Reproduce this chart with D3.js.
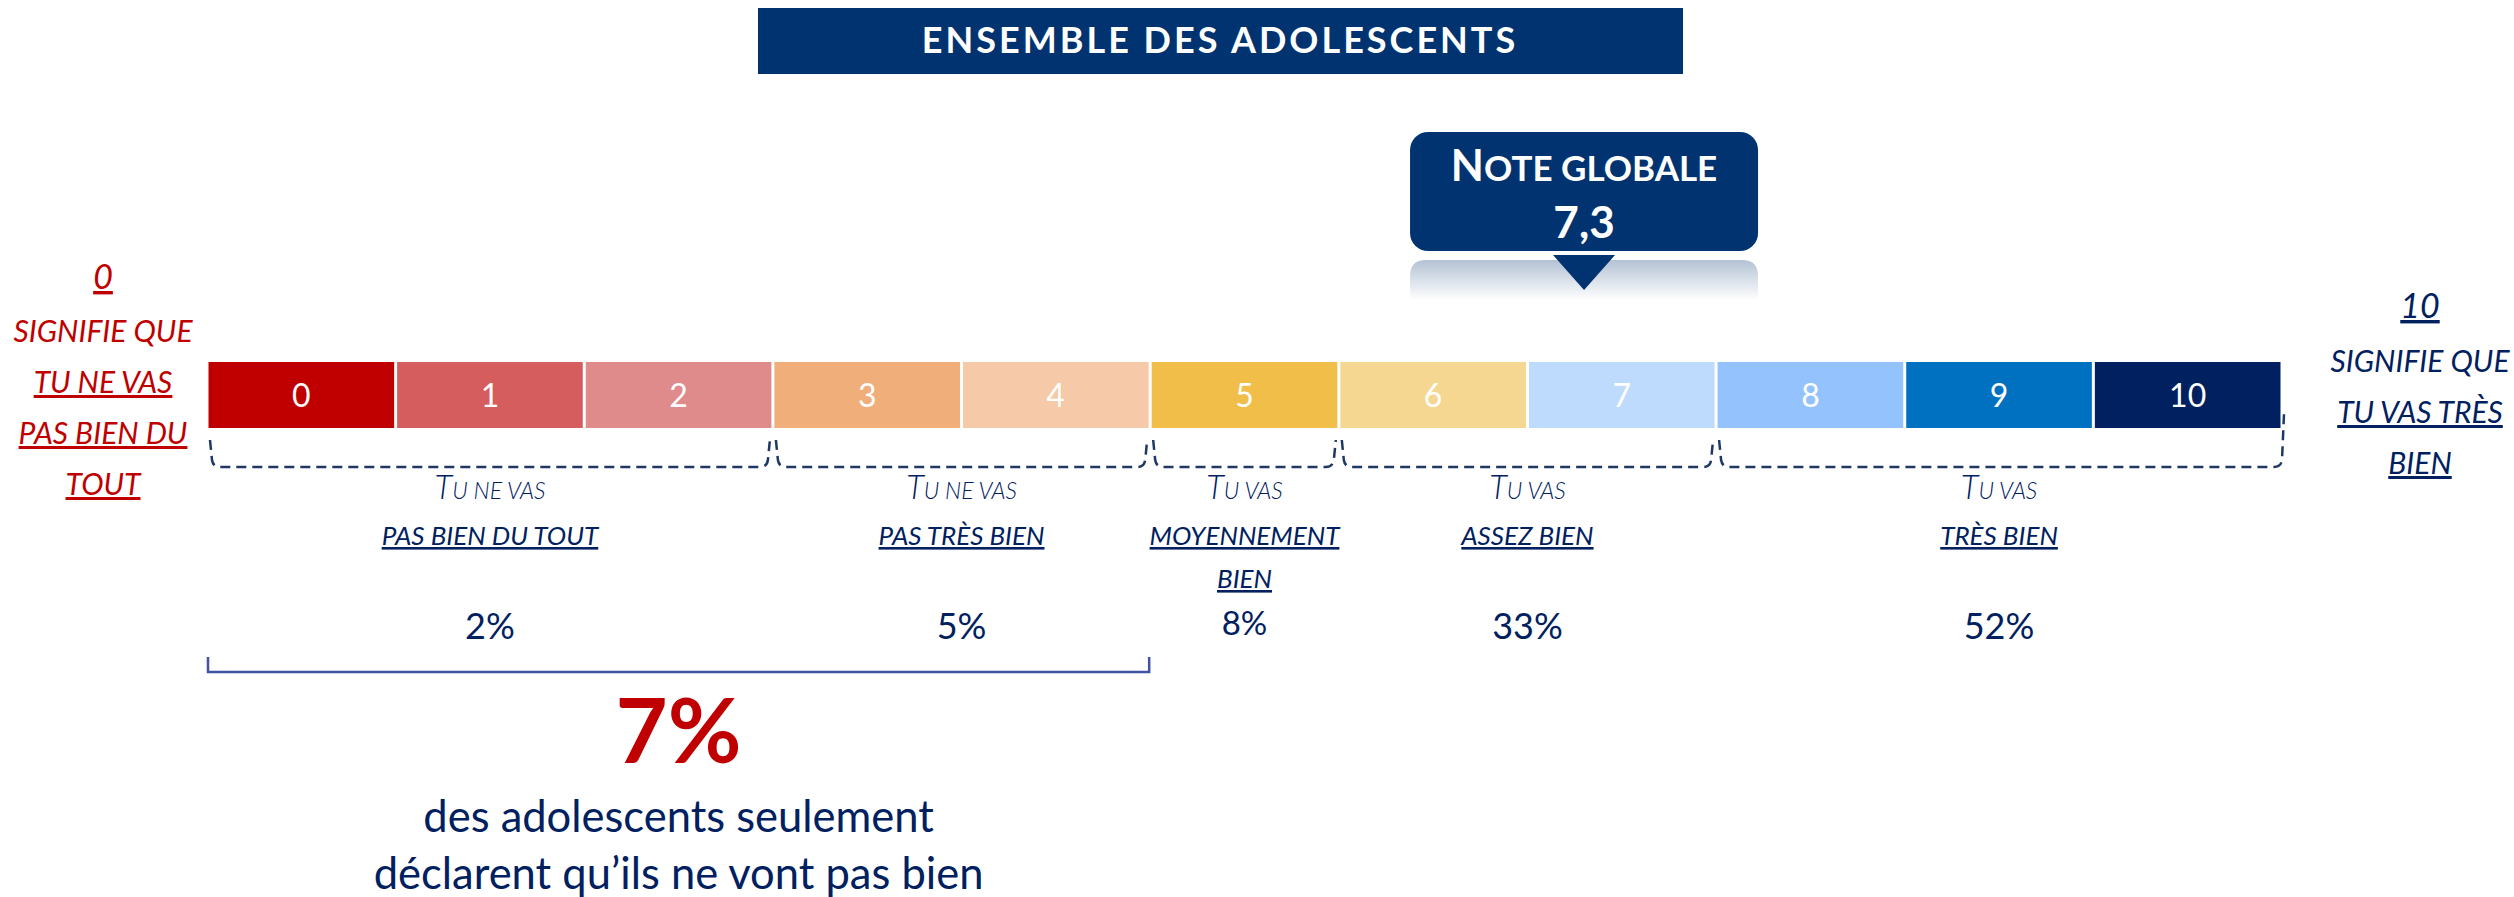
<!doctype html>
<html>
<head>
<meta charset="utf-8">
<script src="https://d3js.org/d3.v7.min.js"></script>
<style>
body { margin: 0; background: #fff; }
text { font-family: Lato, "Open Sans", sans-serif; }
</style>
</head>
<body>
<script>
var width = 2514, height = 897;

// the 0..10 scale
var scores = [0, 1, 2, 3, 4, 5, 6, 7, 8, 9, 10];
var barColors = ['#C00000', '#D65D5D', '#E08B8B', '#F0AE7B', '#F6CAA8', '#F0BE49',
                 '#F6D792', '#BEDBFE', '#94C2FC', '#0070C0', '#002060'];

// answer groups under the bar
var groupStart = [0, 3, 5, 6, 8];
var groupEnd = [2, 4, 5, 7, 10];
var groupLead = ['Tu ne vas', 'Tu ne vas', 'Tu vas', 'Tu vas', 'Tu vas'];
var groupLabel = [['PAS BIEN DU TOUT'], ['PAS TRÈS BIEN'], ['MOYENNEMENT', 'BIEN'], ['ASSEZ BIEN'], ['TRÈS BIEN']];
var groupPct = [2, 5, 8, 33, 52];

var noteGlobale = 7.3;

var leftLines = ['SIGNIFIE QUE', 'TU NE VAS', 'PAS BIEN DU', 'TOUT'];
var leftUnder = [false, true, true, true];
var rightLines = ['SIGNIFIE QUE', 'TU VAS TRÈS', 'BIEN'];
var rightUnder = [false, true, true];

var navy = '#002060', red = '#C00000', boxBlue = '#00336F';

var svg = d3.select('body').append('svg').attr('width', width).attr('height', height);

var x = d3.scaleLinear().domain([0, 11]).range([207, 2282]);
var bw = x(1) - x(0);

// title
svg.append('rect').attr('x', 758).attr('y', 8).attr('width', 925).attr('height', 66).attr('fill', boxBlue);
svg.append('text').attr('x', 1220).attr('y', 53).attr('text-anchor', 'middle')
  .attr('fill', '#fff').attr('font-size', 36).attr('font-weight', 700).attr('letter-spacing', 3)
  .text('ENSEMBLE DES ADOLESCENTS');

// bars
svg.selectAll('rect.bar').data(scores).join('rect').attr('class', 'bar')
  .attr('x', function(d) { return x(d) + 1.5 })
  .attr('width', bw - 3)
  .attr('y', 362).attr('height', 66)
  .attr('fill', function(d, i) { return barColors[i] });

svg.selectAll('text.score').data(scores).join('text').attr('class', 'score')
  .attr('x', function(d) { return x(d + 0.5) })
  .attr('y', 407)
  .attr('text-anchor', 'middle').attr('fill', '#fff').attr('font-size', 32)
  .text(function(d) { return d });

// dashed brackets
function bracket(x0, x1, top0, top1) {
  var yb = 467;
  return 'M' + x0 + ',' + top0 + ' L' + (x0 + 2) + ',' + (yb - 7) +
    ' Q' + (x0 + 3) + ',' + yb + ' ' + (x0 + 10) + ',' + yb +
    ' L' + (x1 - 10) + ',' + yb +
    ' Q' + (x1 - 3) + ',' + yb + ' ' + (x1 - 2) + ',' + (yb - 7) +
    ' L' + x1 + ',' + top1;
}
svg.selectAll('path.bracket').data(groupStart).join('path').attr('class', 'bracket')
  .attr('d', function(d, i) {
    var last = i === groupStart.length - 1;
    return bracket(x(d) + 3, x(groupEnd[i] + 1) - (last ? -2 : 3), 440, last ? 414 : 440);
  })
  .attr('fill', 'none').attr('stroke', '#1F3864').attr('stroke-width', 2.5)
  .attr('stroke-dasharray', '10,6');

// group captions
var cap = svg.selectAll('g.cap').data(groupStart).join('g').attr('class', 'cap')
  .attr('transform', function(d, i) { return 'translate(' + x((d + groupEnd[i] + 1) / 2) + ',0)' });

var lead = cap.append('text').attr('y', 499).attr('text-anchor', 'middle')
  .attr('fill', navy).attr('font-style', 'italic').attr('font-weight', 300);
lead.append('tspan').attr('font-size', 33).text(function(d, i) { return groupLead[i].charAt(0) });
lead.append('tspan').attr('font-size', 23).text(function(d, i) { return groupLead[i].slice(1).toUpperCase() });

cap.each(function(d, i) {
  var g = d3.select(this);
  groupLabel[i].forEach(function(l, j) {
    g.append('text').attr('y', 545 + j * 43).attr('text-anchor', 'middle')
      .attr('fill', navy).attr('font-style', 'italic').attr('font-size', 26)
      .attr('text-decoration', 'underline').text(l);
  });
  g.append('text').attr('y', groupLabel[i].length > 1 ? 635 : 639).attr('text-anchor', 'middle')
    .attr('fill', navy).attr('font-size', groupLabel[i].length > 1 ? 33 : 36)
    .text(groupPct[i] + '%');
});

// left / right explanation
var left = svg.append('g').attr('fill', red).attr('font-style', 'italic').attr('text-anchor', 'middle');
left.append('text').attr('x', 103).attr('y', 289).attr('font-size', 34)
  .attr('text-decoration', 'underline').text(scores[0]);
left.selectAll('text.l').data(leftLines).join('text').attr('class', 'l')
  .attr('x', 103).attr('y', function(d, i) { return 342 + i * 51 })
  .attr('font-size', 30)
  .attr('text-decoration', function(d, i) { return leftUnder[i] ? 'underline' : null })
  .text(function(d) { return d });

var right = svg.append('g').attr('fill', navy).attr('font-style', 'italic').attr('text-anchor', 'middle');
right.append('text').attr('x', 2420).attr('y', 318).attr('font-size', 34)
  .attr('text-decoration', 'underline').text(scores[scores.length - 1]);
right.selectAll('text.r').data(rightLines).join('text').attr('class', 'r')
  .attr('x', 2420).attr('y', function(d, i) { return 372 + i * 51 })
  .attr('font-size', 30)
  .attr('text-decoration', function(d, i) { return rightUnder[i] ? 'underline' : null })
  .text(function(d) { return d });

// note globale callout
var cx = x(noteGlobale);
var defs = svg.append('defs');
var grad = defs.append('linearGradient').attr('id', 'refl').attr('x1', 0).attr('y1', 0).attr('x2', 0).attr('y2', 1);
grad.append('stop').attr('offset', 0).attr('stop-color', boxBlue).attr('stop-opacity', 0.3);
grad.append('stop').attr('offset', 1).attr('stop-color', boxBlue).attr('stop-opacity', 0);

svg.append('path')
  .attr('d', 'M' + (cx - 174) + ',300 V276 Q' + (cx - 174) + ',260 ' + (cx - 158) + ',260 H' + (cx + 158) +
    ' Q' + (cx + 174) + ',260 ' + (cx + 174) + ',276 V300 Z')
  .attr('fill', 'url(#refl)');
svg.append('rect').attr('x', cx - 174).attr('y', 132).attr('width', 348).attr('height', 119)
  .attr('rx', 18).attr('fill', boxBlue);
svg.append('path')
  .attr('d', 'M' + (cx - 31) + ',255 L' + (cx + 31) + ',255 L' + cx + ',290 Z')
  .attr('fill', boxBlue);

var nt = svg.append('text').attr('x', cx).attr('y', 181).attr('text-anchor', 'middle')
  .attr('fill', '#fff').attr('font-weight', 700);
nt.append('tspan').attr('font-size', 43).text('N');
nt.append('tspan').attr('font-size', 35).text('OTE GLOBALE');
svg.append('text').attr('x', cx).attr('y', 238).attr('text-anchor', 'middle')
  .attr('fill', '#fff').attr('font-weight', 700).attr('font-size', 44)
  .text(String(noteGlobale).replace('.', ','));

// low scores summary
var lowX0 = x(groupStart[0]), lowX1 = x(groupEnd[1] + 1);
svg.append('path')
  .attr('d', 'M' + (lowX0 + 1) + ',657 V672 H' + (lowX1 - 1) + ' V657')
  .attr('fill', 'none').attr('stroke', '#4152A3').attr('stroke-width', 2.5);
var lowMid = (lowX0 + lowX1) / 2;
svg.append('text').attr('x', lowMid).attr('y', 763).attr('text-anchor', 'middle')
  .attr('fill', red).attr('font-weight', 700).attr('font-size', 90)
  .text((groupPct[0] + groupPct[1]) + '%');
svg.append('text').attr('x', lowMid).attr('y', 832).attr('text-anchor', 'middle')
  .attr('fill', navy).attr('font-size', 43.5).text('des adolescents seulement');
svg.append('text').attr('x', lowMid).attr('y', 889).attr('text-anchor', 'middle')
  .attr('fill', navy).attr('font-size', 43.5).text('déclarent qu’ils ne vont pas bien');

console.log('ready..');
</script>
</body>
</html>
